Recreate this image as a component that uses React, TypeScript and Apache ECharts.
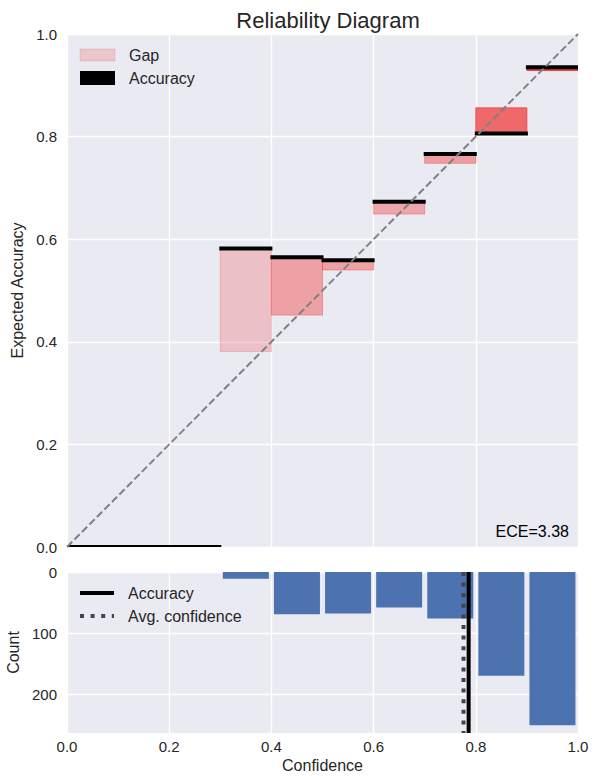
import React, { useEffect, useRef } from "react";
import * as echarts from "echarts";

// ---- data ----
const binLows = [0, 0.1, 0.2, 0.3, 0.4, 0.5, 0.6, 0.7, 0.8, 0.9];
const binSize = 0.1;
const accuracies = [0, 0, 0, 0.582, 0.565, 0.559, 0.673, 0.766, 0.806, 0.935];
const confidences = [0, 0, 0, 0.381, 0.452, 0.54, 0.649, 0.748, 0.856, 0.929];
const counts = [0, 0, 0, 11, 69, 68, 58, 76, 170, 251];
const avgAccuracy = 0.786;
const avgConfidence = 0.776;
const eceValue = 3.38;
const countMax = 263.55;

const FONT = "Liberation Sans, Arial, sans-serif";
const TXT = "#262626";
const BG = "#EAEAF2";

export default function App() {
  const ref = useRef<HTMLDivElement>(null);
  useEffect(() => {
    if (!ref.current) return;
    const chart = echarts.init(ref.current, undefined, { renderer: "svg" });
    const maxCount = Math.max(...counts);

    const gapData = binLows.map((lo, i) => [
      lo,
      lo + binSize,
      Math.min(accuracies[i], confidences[i]),
      Math.max(accuracies[i], confidences[i]),
      0.2 + 0.8 * (counts[i] / maxCount),
    ]);
    const accData = binLows.map((lo, i) => [lo, lo + binSize, accuracies[i]]);
    const histData = binLows.map((lo, i) => [lo + binSize / 2, counts[i]]);

    const option: any = {
      animation: false,
      backgroundColor: "#ffffff",
      textStyle: { fontFamily: FONT },
      title: {
        text: "Reliability Diagram",
        left: 323,
        top: 4,
        textAlign: "center",
        textStyle: { fontFamily: FONT, fontSize: 22, fontWeight: "normal", color: TXT },
      },
      grid: [
        { left: 67, top: 34, width: 511, height: 513, show: true, backgroundColor: BG, borderWidth: 0, containLabel: false, outerBoundsMode: "none" },
        { left: 67, top: 572, width: 511, height: 161, show: true, backgroundColor: BG, borderWidth: 0, containLabel: false, outerBoundsMode: "none" },
      ],
      xAxis: [
        {
          gridIndex: 0, type: "value", min: 0, max: 1, interval: 0.2,
          axisLine: { show: false }, axisTick: { show: false }, axisLabel: { show: false },
          splitLine: { show: true, lineStyle: { color: "#ffffff", width: 1.3 } },
        },
        {
          gridIndex: 1, type: "value", min: 0, max: 1, interval: 0.2,
          axisLine: { show: false }, axisTick: { show: false },
          axisLabel: { color: TXT, fontSize: 15, fontFamily: FONT, margin: 6, formatter: (v: number) => v.toFixed(1) },
          splitLine: { show: true, lineStyle: { color: "#ffffff", width: 1.3 } },
          name: "Confidence", nameLocation: "middle", nameGap: 24,
          nameTextStyle: { color: TXT, fontSize: 16, fontFamily: FONT },
        },
      ],
      yAxis: [
        {
          gridIndex: 0, type: "value", min: 0, max: 1, interval: 0.2,
          axisLine: { show: false }, axisTick: { show: false },
          axisLabel: { color: TXT, fontSize: 15, fontFamily: FONT, margin: 10, formatter: (v: number) => v.toFixed(1) },
          splitLine: { show: true, lineStyle: { color: "#ffffff", width: 1.3 } },
          name: "Expected Accuracy", nameLocation: "middle", nameGap: 41,
          nameTextStyle: { color: TXT, fontSize: 16, fontFamily: FONT },
        },
        {
          gridIndex: 1, type: "value", min: 0, max: countMax, interval: 100, inverse: true,
          axisLine: { show: false }, axisTick: { show: false },
          axisLabel: { color: TXT, fontSize: 15, fontFamily: FONT, margin: 10, showMaxLabel: false },
          splitLine: { show: true, lineStyle: { color: "#ffffff", width: 1.3 }, showMaxLine: false },
          name: "Count", nameLocation: "middle", nameGap: 42,
          nameTextStyle: { color: TXT, fontSize: 16, fontFamily: FONT },
        },
      ],
      series: [
        {
          name: "Gap", type: "custom", xAxisIndex: 0, yAxisIndex: 0, clip: true, z: 2,
          encode: { x: [0, 1], y: [2, 3] },
          data: gapData,
          renderItem: (params: any, api: any) => {
            const lo = api.value(0), hi = api.value(1), b = api.value(2), t = api.value(3), a = api.value(4);
            if (t - b <= 0) return null;
            const p1 = api.coord([lo, t]);
            const p2 = api.coord([hi, b]);
            const c = `rgba(240,60,60,${a})`;
            return {
              type: "rect",
              shape: { x: p1[0], y: p1[1], width: p2[0] - p1[0], height: p2[1] - p1[1] },
              style: { fill: c, stroke: c, lineWidth: 1 },
            };
          },
        },
        {
          name: "Accuracy", type: "custom", xAxisIndex: 0, yAxisIndex: 0, clip: true, z: 3,
          encode: { x: [0, 1], y: 2 },
          data: accData,
          renderItem: (params: any, api: any) => {
            const lo = api.value(0), hi = api.value(1), acc = api.value(2);
            const p1 = api.coord([lo, acc]);
            const p2 = api.coord([hi, acc]);
            return {
              type: "rect",
              shape: { x: p1[0] - 1, y: p1[1] - 2, width: p2[0] - p1[0] + 2, height: 4 },
              style: { fill: "#000000" },
            };
          },
        },
        {
          name: "Diagonal", type: "line", xAxisIndex: 0, yAxisIndex: 0, z: 5,
          data: [[0, 0], [1, 1]], symbol: "none",
          lineStyle: { color: "#808080", width: 2, type: [7.4, 3.2] },
        },
        {
          name: "Count", type: "custom", xAxisIndex: 1, yAxisIndex: 1, clip: true, z: 2,
          encode: { x: 0, y: 1 },
          data: histData,
          renderItem: (params: any, api: any) => {
            const cx = api.value(0), cnt = api.value(1);
            if (cnt <= 0) return null;
            const p1 = api.coord([cx - binSize * 0.45, 0]);
            const p2 = api.coord([cx + binSize * 0.45, cnt]);
            return {
              type: "rect",
              shape: {
                x: p1[0], y: Math.min(p1[1], p2[1]),
                width: p2[0] - p1[0], height: Math.abs(p2[1] - p1[1]),
              },
              style: { fill: "#4C72B0" },
            };
          },
        },
        {
          name: "AvgAccuracy", type: "line", xAxisIndex: 1, yAxisIndex: 1, z: 5,
          data: [[avgAccuracy, 0], [avgAccuracy, countMax]], symbol: "none",
          lineStyle: { color: "#000000", width: 4 },
        },
        {
          name: "AvgConfidence", type: "line", xAxisIndex: 1, yAxisIndex: 1, z: 5,
          data: [[avgConfidence, 0], [avgConfidence, countMax]], symbol: "none",
          lineStyle: { color: "#444444", width: 4, type: [4, 6.6], cap: "butt" },
        },
      ],
      graphic: [
        // top legend
        { type: "rect", shape: { x: 80, y: 49, width: 35, height: 12 }, style: { fill: "rgba(240,60,60,0.2)", stroke: "rgba(240,60,60,0.2)", lineWidth: 1 }, z: 10 },
        { type: "text", x: 129, y: 55, style: { text: "Gap", fill: TXT, font: `16px ${FONT}`, textVerticalAlign: "middle" }, z: 10 },
        { type: "rect", shape: { x: 80, y: 71, width: 35, height: 14 }, style: { fill: "#000000" }, z: 10 },
        { type: "text", x: 129, y: 78, style: { text: "Accuracy", fill: TXT, font: `16px ${FONT}`, textVerticalAlign: "middle" }, z: 10 },
        // ECE
        { type: "text", x: 569, y: 539, style: { text: `ECE=${eceValue.toFixed(2)}`, fill: "#000000", font: `16px ${FONT}`, textAlign: "right", textVerticalAlign: "bottom" }, z: 10 },
        // bottom legend
        { type: "line", shape: { x1: 80, y1: 593, x2: 114, y2: 593 }, style: { stroke: "#000000", lineWidth: 4 }, z: 10 },
        { type: "text", x: 128, y: 593, style: { text: "Accuracy", fill: TXT, font: `16px ${FONT}`, textVerticalAlign: "middle" }, z: 10 },
        { type: "line", shape: { x1: 80, y1: 616, x2: 114, y2: 616 }, style: { stroke: "#444444", lineWidth: 4, lineDash: [4, 6.6] }, z: 10 },
        { type: "text", x: 128, y: 616, style: { text: "Avg. confidence", fill: TXT, font: `16px ${FONT}`, textVerticalAlign: "middle" }, z: 10 },
      ],
    };
    chart.setOption(option);
    return () => chart.dispose();
  }, []);
  return <div ref={ref} style={{ width: 594, height: 776, position: "absolute", left: 0, top: 0 }} />;
}
